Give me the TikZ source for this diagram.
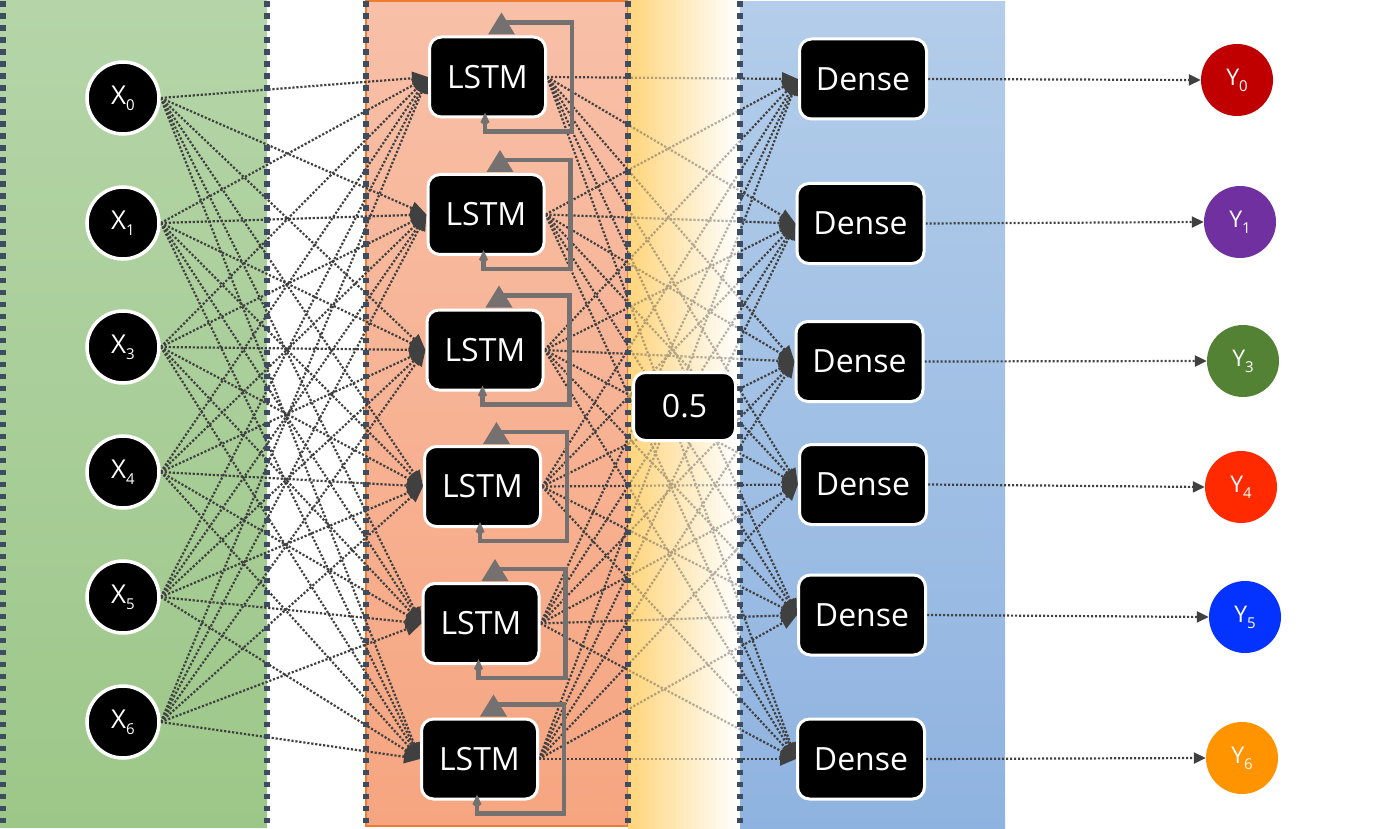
\documentclass[tikz,border=0pt]{standalone}
\usepackage{fontspec}
\setmainfont{Open Sans}
\usetikzlibrary{arrows.meta,calc}
\definecolor{gtop}{HTML}{B5D5A8}
\definecolor{gbot}{HTML}{9DC789}
\definecolor{otop}{HTML}{F8C0A8}
\definecolor{obot}{HTML}{F6A580}
\definecolor{oedge}{HTML}{ED7D31}
\definecolor{btop}{HTML}{B3CDEA}
\definecolor{bbot}{HTML}{8FB3E0}
\definecolor{yel}{HTML}{FFD57C}
\definecolor{dashc}{HTML}{3E4C62}
\definecolor{arrc}{HTML}{404040}
\definecolor{loopc}{HTML}{767171}
\definecolor{cy0}{HTML}{C00000}
\definecolor{cy1}{HTML}{7030A0}
\definecolor{cy3}{HTML}{548235}
\definecolor{cy4}{HTML}{FF2A00}
\definecolor{cy5}{HTML}{0433FF}
\definecolor{cy6}{HTML}{FF9300}
\pgfdeclarelayer{panels}
\pgfdeclarelayer{lines}
\pgfdeclarelayer{veil}
\pgfsetlayers{panels,lines,veil,main}
\newcommand\lsub[1]{{\fontsize{15}{15}\selectfont\raisebox{-6pt}{#1}}}
\begin{document}
\begin{tikzpicture}[x=1pt,y=-1pt,
  xnode/.style={circle,fill=black,draw=white,line width=3.5pt,minimum size=72pt,inner sep=0pt,text=white,font=\fontsize{26}{30}\selectfont},
  ynode/.style={circle,minimum size=72pt,inner sep=0pt,text=white,font=\fontsize{23}{27}\selectfont},
  boxnode/.style={rectangle,rounded corners=12pt,fill=black,draw=white,line width=3pt,text=white,minimum height=80pt,inner sep=0pt,font=\fontsize{32}{36}\selectfont},
  lstmbox/.style={boxnode,minimum width=116pt},
  densebox/.style={boxnode,minimum width=127pt},
  conn/.style={draw=arrc,line width=2.2pt,dash pattern=on 2.2pt off 1.8pt,-{Triangle[length=16pt,width=13pt]}},
  outconn/.style={conn,-{Triangle[length=12pt,width=11pt]}},
  loopline/.style={draw=loopc,line width=4.3pt}]
\useasboundingbox (0,0) rectangle (1387,829);

% panels
\begin{pgfonlayer}{panels}
\fill[top color=gtop,bottom color=gbot] (0,0) rectangle (267,827);
\fill[top color=otop,bottom color=obot] (366,1) rectangle (628,826);
\draw[oedge,line width=1.5pt] (366,1) rectangle (628,826);
\foreach \k in {0,...,27}{
  \pgfmathsetmacro\pc{100-100*\k/27}
  \fill[yel!\pc!white] ({628+4*\k},0) rectangle ({632.5+4*\k},829);
}
\fill[top color=btop,bottom color=bbot] (740,2) rectangle (1005,829);
\end{pgfonlayer}

% inputs
\node[xnode] (x0) at (123,98) {X\lsub{0}};
\node[xnode] (x1) at (123,223) {X\lsub{1}};
\node[xnode] (x3) at (123,347) {X\lsub{3}};
\node[xnode] (x4) at (123,472) {X\lsub{4}};
\node[xnode] (x5) at (123,597) {X\lsub{5}};
\node[xnode] (x6) at (123,722) {X\lsub{6}};

% LSTM
\node[lstmbox] (l1) at (487.5,77) {LSTM};
\node[lstmbox] (l2) at (486,214.5) {LSTM};
\node[lstmbox] (l3) at (485,350) {LSTM};
\node[lstmbox] (l4) at (482.5,486.5) {LSTM};
\node[lstmbox] (l5) at (481,623.5) {LSTM};
\node[lstmbox] (l6) at (479.5,759) {LSTM};

% dropout
\node[boxnode,minimum width=102pt,minimum height=68pt] (p) at (684.5,406.5) {0.5};

% Dense
\node[densebox] (d1) at (863,79) {Dense};
\node[densebox] (d2) at (860.5,223.5) {Dense};
\node[densebox] (d3) at (859.5,361.5) {Dense};
\node[densebox] (d4) at (863,484.5) {Dense};
\node[densebox] (d5) at (862,615) {Dense};
\node[densebox] (d6) at (861,759) {Dense};

% outputs
\node[ynode,fill=cy0] (y0) at (1237,80) {Y\lsub{0}};
\node[ynode,fill=cy1] (y1) at (1240,222) {Y\lsub{1}};
\node[ynode,fill=cy3] (y3) at (1243,361) {Y\lsub{3}};
\node[ynode,fill=cy4] (y4) at (1241,487) {Y\lsub{4}};
\node[ynode,fill=cy5] (y5) at (1245,617) {Y\lsub{5}};
\node[ynode,fill=cy6] (y6) at (1242,758) {Y\lsub{6}};

% connectors
\begin{pgfonlayer}{lines}
\foreach \a in {x0,x1,x3,x4,x5,x6}
  \foreach \b in {l1,l2,l3,l4,l5,l6}
    \draw[conn] (\a.east) -- (\b.west);
\foreach \a in {l1,l2,l3,l4,l5,l6}
  \foreach \b in {d1,d2,d3,d4,d5,d6}
    \draw[conn] (\a.east) -- (\b.west);
\draw[outconn] (d1.east) -- (y0.west);
\draw[outconn] (d2.east) -- (y1.west);
\draw[outconn] (d3.east) -- (y3.west);
\draw[outconn] (d4.east) -- (y4.west);
\draw[outconn] (d5.east) -- (y5.west);
\draw[outconn] (d6.east) -- (y6.west);
\end{pgfonlayer}

% veil and borders
\begin{pgfonlayer}{veil}
\foreach \k in {0,...,27}{
  \pgfmathsetmacro\pc{100-100*\k/27}
  \fill[yel!\pc!white,fill opacity=0.6] ({628+4*\k},0) rectangle ({632+4*\k},829);
}
\foreach \xx in {3,267,366,628,740}
  \foreach \k in {0,...,69}
    \fill[dashc] ({\xx-3},{1.5+12*\k}) rectangle ({\xx+3},{7.3+12*\k});
\end{pgfonlayer}

% recurrent loops
\foreach \n in {l1,l2,l3,l4,l5,l6}{
  \draw[loopline,{Kite[length=13pt,width=9pt]}-] ($(\n.south)+(-2.5,-6)$) -- ($(\n.south)+(-2.5,13)$) -| ($(\n.north east)+(25,-13)$) -- ($(\n.north)+(16,-13)$);
  \fill[loopc] ($(\n.north)+(14,-23)$) -- ($(\n.north)+(0.5,-1)$) -- ($(\n.north)+(27.5,-1)$) -- cycle;
}
\end{tikzpicture}
\end{document}
